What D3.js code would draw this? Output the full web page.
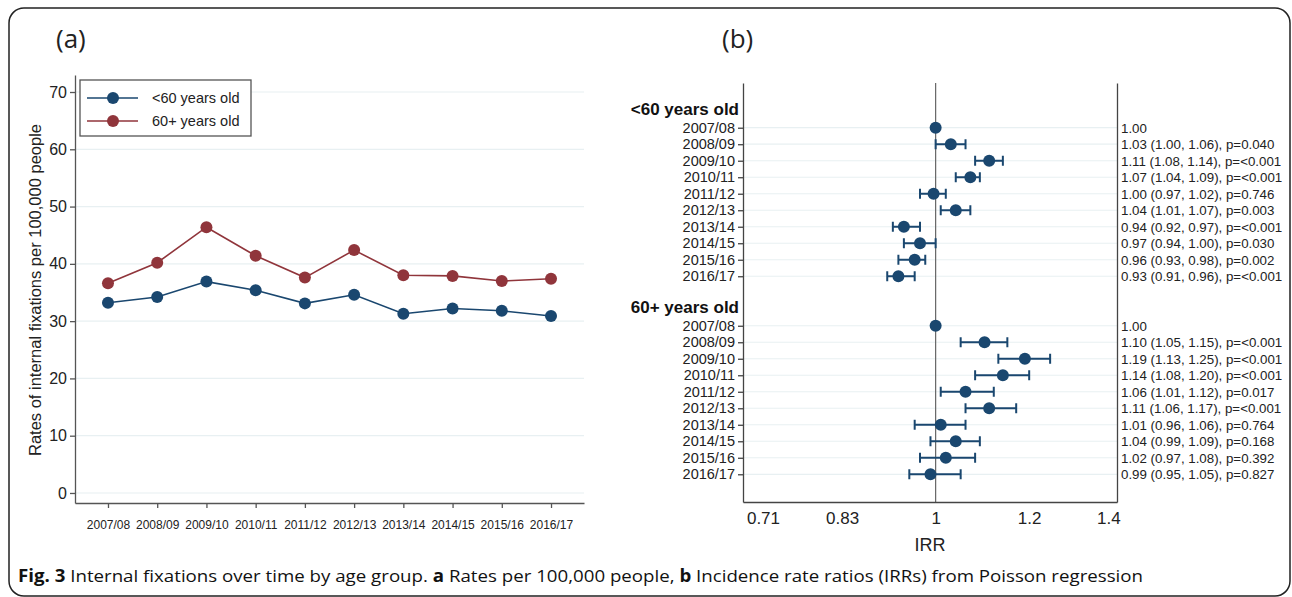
<!DOCTYPE html>
<html>
<head>
<meta charset="utf-8">
<script src="https://cdn.jsdelivr.net/npm/d3@7"></script>
<style>
  body { margin: 0; background: #fff; }
  svg { display: block; }
  svg text { font-family: "Liberation Sans", Arial, sans-serif; }
</style>
</head>
<body>
<svg id="fig" width="1292" height="597"></svg>
<script>
// panel (a): rates per 100,000 people
const years = ["2007/08", "2008/09", "2009/10", "2010/11", "2011/12",
               "2012/13", "2013/14", "2014/15", "2015/16", "2016/17"];
const ratesUnder60 = [33.2, 34.2, 36.9, 35.4, 33.1, 34.6, 31.3, 32.2, 31.8, 30.9];
const rates60plus = [36.6, 40.2, 46.4, 41.4, 37.6, 42.4, 38.0, 37.9, 37.0, 37.4];
const rateTicks = [0, 10, 20, 30, 40, 50, 60, 70];

// panel (b): IRRs from Poisson regression
const irrUnder60 = [1.00, 1.03, 1.11, 1.07, 0.996, 1.04, 0.94, 0.97, 0.96, 0.93];
const lowUnder60 = [null, 1.00, 1.08, 1.04, 0.97, 1.01, 0.92, 0.94, 0.93, 0.91];
const highUnder60 = [null, 1.06, 1.14, 1.09, 1.02, 1.07, 0.97, 1.00, 0.98, 0.96];
const pUnder60 = [null, "0.040", "<0.001", "<0.001", "0.746", "0.003", "<0.001", "0.030", "0.002", "<0.001"];

const irr60plus = [1.00, 1.10, 1.19, 1.14, 1.06, 1.11, 1.01, 1.04, 1.02, 0.99];
const low60plus = [null, 1.05, 1.13, 1.08, 1.01, 1.06, 0.96, 0.99, 0.97, 0.95];
const high60plus = [null, 1.15, 1.25, 1.20, 1.12, 1.17, 1.06, 1.09, 1.08, 1.05];
const p60plus = [null, "<0.001", "<0.001", "<0.001", "0.017", "<0.001", "0.764", "0.168", "0.392", "0.827"];

const irrTicks = [1 / 1.4, 1 / 1.2, 1, 1.2, 1.4];
const irrTickLabels = ["0.71", "0.83", "1", "1.2", "1.4"];
const groups = ["<60 years old", "60+ years old"];

const navy = "#1a476f", maroon = "#90353b", grid = "#e8f0f2", ink = "#222";

const svg = d3.select("#fig");

// outer frame
svg.append("rect")
    .attr("x", 9).attr("y", 8)
    .attr("width", 1281).attr("height", 588)
    .attr("rx", 15)
    .attr("fill", "none")
    .attr("stroke", "#222")
    .attr("stroke-width", 1.5);

let rateChart = () => {
    const x = d3.scalePoint().domain(years).range([75, 584]).padding(0.67);
    const y = d3.scaleLinear().domain([-1.75, 72.97]).range([503, 75]);
    const g = svg.append("g");

    g.append("text").attr("x", 56).attr("y", 48)
	.style("font-family", "'Open Sans', sans-serif")
	.style("font-size", "26px").attr("fill", ink).text("(a)");

    g.selectAll(".grid").data(rateTicks)
	.enter().append("line")
	.attr("x1", 76).attr("x2", 584)
	.attr("y1", d => y(d)).attr("y2", d => y(d))
	.attr("stroke", grid).attr("stroke-width", 1.2);

    const yAxis = g.append("g")
	  .attr("transform", "translate(75, 0)")
	  .call(d3.axisLeft(y).tickValues(rateTicks).tickSize(5).tickSizeOuter(0).tickPadding(3));
    yAxis.selectAll("text").style("font-size", "16px").attr("fill", ink);

    const xAxis = g.append("g")
	  .attr("transform", "translate(0, 503)")
	  .call(d3.axisBottom(x).tickSize(5).tickSizeOuter(0).tickPadding(12));
    xAxis.selectAll("text").style("font-size", "12px").attr("fill", ink);
    g.selectAll(".domain, .tick line").attr("stroke", "#555").attr("stroke-width", 1.3);

    g.append("text")
	.attr("transform", "translate(41, 290) rotate(-90)")
	.attr("text-anchor", "middle")
	.style("font-size", "16.5px").attr("fill", ink)
	.text("Rates of internal fixations per 100,000 people");

    const line = d3.line().x((d, i) => x(years[i])).y(d => y(d));
    [[ratesUnder60, navy], [rates60plus, maroon]].forEach(([vals, col]) => {
	g.append("path").attr("d", line(vals))
	    .attr("fill", "none").attr("stroke", col).attr("stroke-width", 1.6);
	g.selectAll(null).data(vals)
	    .enter().append("circle")
	    .attr("cx", (d, i) => x(years[i])).attr("cy", d => y(d))
	    .attr("r", 6).attr("fill", col);
    });

    // legend
    const leg = g.append("g");
    leg.append("rect").attr("x", 80).attr("y", 80).attr("width", 171).attr("height", 56)
	.attr("fill", "#fff").attr("stroke", "#555").attr("stroke-width", 1.3);
    [[groups[0], navy], [groups[1], maroon]].forEach(([name, col], i) => {
	const ly = 98 + i * 23;
	leg.append("line").attr("x1", 87).attr("x2", 138).attr("y1", ly).attr("y2", ly)
	    .attr("stroke", col).attr("stroke-width", 1.6);
	leg.append("circle").attr("cx", 113).attr("cy", ly).attr("r", 6).attr("fill", col);
	leg.append("text").attr("x", 152).attr("y", ly + 5)
	    .style("font-size", "14.5px").attr("fill", ink).text(name);
    });
};

let forestChart = () => {
    const x = d3.scaleLog().domain([0.687, 1.424]).range([743, 1117]);
    // rows: 0 header, 1-10 data, 11 blank, 12 header, 13-22 data
    const y = d3.scaleLinear().domain([-1.71, 23.68]).range([83, 502]);
    const g = svg.append("g");

    g.append("text").attr("x", 722).attr("y", 48)
	.style("font-family", "'Open Sans', sans-serif")
	.style("font-size", "26px").attr("fill", ink).text("(b)");

    const rows = [];
    [[irrUnder60, lowUnder60, highUnder60, pUnder60], [irr60plus, low60plus, high60plus, p60plus]]
	.forEach(([est, lo, hi, p], k) => {
	    years.forEach((yr, i) => rows.push({
		row: k * 12 + 1 + i, year: yr, est: est[i], lo: lo[i], hi: hi[i], p: p[i]
	    }));
	});
    const rowLabel = new Map(rows.map(d => [d.row, d.year]));

    g.selectAll(".grid").data(rows)
	.enter().append("line")
	.attr("x1", 744).attr("x2", 1117)
	.attr("y1", d => y(d.row)).attr("y2", d => y(d.row))
	.attr("stroke", grid).attr("stroke-width", 1.2);

    g.append("line")
	.attr("x1", x(1)).attr("x2", x(1)).attr("y1", 83).attr("y2", 502)
	.attr("stroke", "#666").attr("stroke-width", 1.2);

    const yAxis = g.append("g")
	  .attr("transform", "translate(743, 0)")
	  .call(d3.axisLeft(y).tickValues(rows.map(d => d.row))
		.tickFormat(d => rowLabel.get(d)).tickSize(5).tickSizeOuter(0).tickPadding(3));
    yAxis.selectAll("text").style("font-size", "14.5px").attr("fill", ink);

    g.append("g")
	.attr("transform", "translate(1117, 0)")
	.call(d3.axisRight(y).tickValues([]).tickSizeOuter(0));

    const xAxis = g.append("g")
	  .attr("transform", "translate(0, 502)")
	  .call(d3.axisBottom(x).tickValues(irrTicks)
		.tickFormat((d, i) => irrTickLabels[i]).tickSize(0).tickSizeOuter(0).tickPadding(10));
    xAxis.selectAll("text").style("font-size", "17px").attr("fill", ink);
    g.selectAll(".domain, .tick line").attr("stroke", "#444").attr("stroke-width", 1.3);

    g.append("text").attr("x", 930).attr("y", 551).attr("text-anchor", "middle")
	.style("font-size", "18px").attr("fill", ink).text("IRR");

    g.selectAll(".hdr").data(groups)
	.enter().append("text")
	.attr("x", 739).attr("y", (d, i) => y(i * 12) + 4)
	.attr("text-anchor", "end")
	.style("font-size", "17px").style("font-weight", "bold").attr("fill", "#111")
	.text(d => d);

    const ci = rows.filter(d => d.lo !== null);
    const cap = 5;
    g.selectAll(".ci").data(ci)
	.enter().append("path")
	.attr("d", d => `M${x(d.lo)},${y(d.row) - cap}V${y(d.row) + cap}M${x(d.lo)},${y(d.row)}`
	      + `H${x(d.hi)}M${x(d.hi)},${y(d.row) - cap}V${y(d.row) + cap}`)
	.attr("fill", "none").attr("stroke", navy).attr("stroke-width", 2);

    g.selectAll(".pt").data(rows)
	.enter().append("circle")
	.attr("cx", d => x(d.est)).attr("cy", d => y(d.row))
	.attr("r", 6).attr("fill", navy);

    const f = v => v.toFixed(2);
    g.selectAll(".lab").data(rows)
	.enter().append("text")
	.attr("x", 1121).attr("y", d => y(d.row) + 5)
	.style("font-size", "13.3px").attr("fill", ink)
	.text(d => d.lo === null ? f(d.est) : `${f(d.est)} (${f(d.lo)}, ${f(d.hi)}), p=${d.p}`);
};

rateChart();
forestChart();

// caption
const cap = svg.append("text").attr("x", 18).attr("y", 582)
      .attr("textLength", 1125).attr("lengthAdjust", "spacingAndGlyphs")
      .style("font-family", "'Open Sans', sans-serif")
      .style("font-size", "17px").attr("fill", "#111");
[["Fig. 3", true], [" Internal fixations over time by age group. ", false], ["a", true],
 [" Rates per 100,000 people, ", false], ["b", true],
 [" Incidence rate ratios (IRRs) from Poisson regression", false]]
    .forEach(([t, b]) => cap.append("tspan").style("font-weight", b ? "bold" : "normal").text(t));
</script>
</body>
</html>
